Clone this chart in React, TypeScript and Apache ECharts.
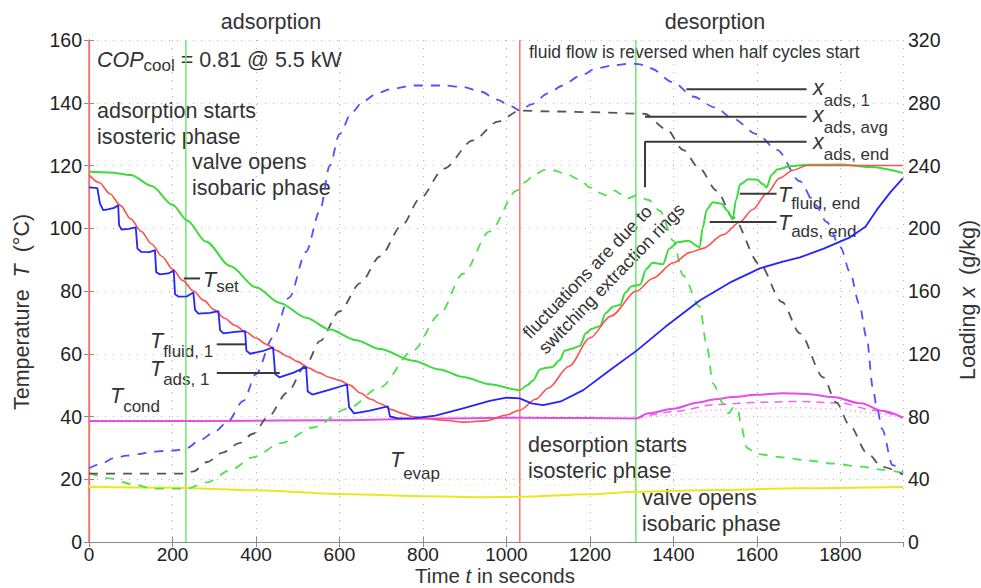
import React, { useEffect, useRef } from "react";
import * as echarts from "echarts";

const FONT = "Liberation Sans";

// Phase markers (time in s)
const phaseStarts = [0, 1032];
const valveOpens = [232, 1310];

// Temperatures (°C) vs time (s)
const tSet: [number, number][] = [[0,117],[25,114.5],[50,111],[75,107.3],[100,103],[125,99],[150,95],[175,91],[200,87],[225,83.3],[250,80],[275,77],[300,74],[325,71.3],[350,69],[375,67],[400,65],[425,63],[450,61],[475,59.2],[500,57.5],[525,55.5],[550,54],[575,52.5],[600,51.5],[625,50],[650,47.5],[675,45.5],[700,44],[725,42.2],[750,41],[775,40],[800,39.5],[850,38.8],[900,38.2],[950,38.6],[1000,40.5],[1032,42],[1070,45.5],[1100,49],[1150,56],[1200,65],[1250,72],[1312,80],[1350,84],[1400,89],[1440,92.3],[1471,93.6],[1520,98],[1559,102],[1590,106],[1623,111],[1655,116],[1686,118.5],[1720,120],[1950,120]];

const tFluid1: [number, number][] = [[0,113],[20,112.8],[26,108],[34,105.8],[45,106],[60,106.5],[70,107.3],[72,101],[78,99.6],[95,99.8],[112,100.3],[116,93.5],[125,92.5],[145,92.4],[158,93],[161,86],[170,85.3],[190,85.6],[203,86.5],[206,79],[215,78.2],[235,78.3],[250,79.5],[254,74],[262,72.8],[290,73],[310,73.6],[314,67.5],[322,66.5],[350,67],[374,67.2],[377,61],[386,60],[415,60.8],[441,62],[446,53.5],[456,52.5],[490,54],[520,55.8],[524,48],[535,47],[575,48.5],[618,50.2],[623,43],[635,41],[670,41.8],[716,43.2],[721,40],[740,39.4],[780,39.5],[830,40.3],[896,42.6],[960,45],[1000,46],[1032,45.8],[1060,44.2],[1088,43.6],[1130,44.8],[1184,48.4],[1250,55],[1312,61],[1380,68.5],[1463,77],[1540,83],[1607,87.2],[1660,89.3],[1703,90.7],[1760,93.5],[1823,97.1],[1860,100.5],[1888,106],[1920,111.5],[1950,116]];

const tFluidEnd: [number, number][] = [[0,118],[50,117.8],[100,117],[150,113.5],[200,107.5],[235,102.5],[280,95.8],[338,88],[400,81.2],[457,76.2],[520,71.5],[577,67.7],[640,64.3],[697,61.5],[776,57.8],[840,55],[896,52.6],[960,50.3],[1032,48.4],[1050,50],[1064,51.5],[1080,55],[1095,55.5],[1110,55.8],[1128,58],[1140,61],[1155,61.5],[1176,62.5],[1190,66.5],[1205,68],[1224,68.8],[1238,73],[1255,75],[1272,75.5],[1285,79.5],[1300,81.5],[1320,82],[1335,87],[1350,89],[1375,88.5],[1390,93.5],[1410,95.5],[1435,96],[1463,94],[1470,100],[1480,106],[1495,108.3],[1515,107.8],[1530,105.5],[1542,102.8],[1550,109],[1560,114],[1580,115.6],[1600,115.5],[1615,114],[1623,113],[1635,117],[1650,118.8],[1680,119.8],[1720,120.2],[1800,120.3],[1870,119.5],[1950,117.6]];

const tCond: [number, number][] = [[0,38.6],[300,38.6],[600,38.8],[800,39.3],[1032,39.6],[1200,39.5],[1310,39.4],[1340,41],[1400,42.5],[1460,44.5],[1500,45.5],[1542,46.2],[1600,46.9],[1662,47.4],[1720,47.2],[1782,46.2],[1850,44.2],[1900,41.8],[1950,39.6]];
const tCondB: [number, number][] = [[1310,39.4],[1400,41.5],[1500,43.8],[1600,44.5],[1700,44.8],[1800,44.3],[1880,42],[1950,39.6]];
const tCondC: [number, number][] = [[1310,39.4],[1400,40.5],[1500,42],[1600,42.7],[1700,42.8],[1800,42.3],[1880,41],[1950,39.6]];

const tEvap: [number, number][] = [[0,17.5],[200,17.3],[400,16.5],[600,15.3],[800,14.6],[950,14.3],[1032,14.4],[1200,15.2],[1310,16],[1500,16.6],[1700,17.1],[1950,17.5]];
const tEvapB: [number, number][] = [[0,18],[500,18],[1000,18.2],[1500,18],[1950,17.8]];

// Loadings (g/kg) vs time (s)
const xAds1: [number, number][] = [[0,47],[30,50],[60,53.5],[90,55],[120,56],[150,57.5],[180,58],[210,58.5],[235,60],[266,65],[300,70],[330,76],[370,90],[400,107],[440,130],[480,156],[520,185],[553,211],[577,240],[600,260],[630,274],[657,281],[690,286],[721,288.5],[776,291],[850,291],[896,290],[940,287],[977,282],[1010,278],[1032,275],[1060,279],[1100,286],[1135,291],[1175,297],[1217,302],[1260,304],[1296,305],[1320,304.5],[1344,302],[1400,293],[1447,284],[1500,277],[1542,270],[1600,260],[1648,250],[1703,230],[1740,215],[1767,204],[1800,188],[1823,172],[1845,152],[1863,130],[1878,98],[1887,86],[1900,72],[1925,49],[1950,45]];

const xAdsAvg: [number, number][] = [[0,43.6],[100,43.6],[232,43.6],[250,45],[283,51],[320,57],[360,63],[393,69],[430,80],[474,95],[520,113],[553,128],[600,147],[650,165],[697,182],[750,202],[793,219],[850,238],[920,256],[980,268],[1032,275],[1100,274.5],[1200,274],[1330,273],[1384,263],[1423,250],[1460,239],[1504,224],[1542,207],[1607,177],[1660,153],[1703,133],[1759,105],[1790,89],[1823,74],[1863,57],[1900,48],[1950,43]];

const xAdsEnd: [number, number][] = [[0,44],[50,40.6],[100,37],[157,34],[234,34],[282,38],[340,46],[393,54],[460,63],[537,73],[620,85],[697,98.6],[776,122],[840,145],[896,171],[960,198],[1025,224],[1040,229],[1073,235],[1090,237],[1111,237],[1140,235],[1176,231],[1200,226],[1217,223],[1240,221],[1260,224],[1272,222],[1290,219],[1312,221],[1340,218],[1368,211],[1400,192],[1423,170],[1463,150],[1480,125],[1495,101],[1520,88],[1532,82],[1545,86],[1555,84],[1562,74],[1576,60],[1600,56],[1662,54],[1720,52],[1782,50],[1850,48],[1902,46],[1950,44]];

// Leader lines for labels (time, °C)
const ptrTSet: [number, number][] = [[227,84],[266,84]];
const ptrTFluid1: [number, number][] = [[306,63],[374,63]];
const ptrTAds1: [number, number][] = [[306,53.9],[457,53.9]];
const ptrX1: [number, number][] = [[1431,144.3],[1719,144.3]];
const ptrXAvg: [number, number][] = [[1332,135.5],[1719,135.5]];
const ptrXEnd: [number, number][] = [[1332,113.1],[1332,127.6],[1719,127.6]];
const ptrTFluidEnd: [number, number][] = [[1559,111],[1647,111]];
const ptrTAdsEnd: [number, number][] = [[1487,102],[1647,102]];

const TXT = "#333";
const AS = 21.5; // annotation font size

function plain(x: number, y: number, text: string, size = AS, align = "left") {
  return {
    type: "text", x, y, silent: true,
    style: { text, fontFamily: FONT, fontSize: size, fill: TXT, align, verticalAlign: "middle", textAlign: align, textVerticalAlign: "middle" },
  };
}

function subLabel(x: number, y: number, main: string, sub: string, off = 10, rest = "") {
  return {
    type: "text", x, y, silent: true,
    style: {
      text: `{m|${main}}{s|${sub}}` + (rest ? `{n|${rest}}` : ""),
      align: "left", verticalAlign: "middle", textAlign: "left", textVerticalAlign: "middle",
      rich: {
        m: { fontFamily: FONT, fontSize: AS, fontStyle: "italic", fill: TXT },
        s: { fontFamily: FONT, fontSize: 17, fill: TXT, padding: [off * 2, 0, 0, 0] },
        n: { fontFamily: FONT, fontSize: AS, fill: TXT },
      },
    },
  };
}

function axisTitle(x: number, y: number, a: string, it: string, b: string, rotation = 0, size = AS) {
  return {
    type: "text", x, y, rotation, silent: true,
    style: {
      text: `{n|${a}}{i|${it}}{n|${b}}`,
      align: "center", verticalAlign: "middle", textAlign: "center", textVerticalAlign: "middle",
      rich: {
        n: { fontFamily: FONT, fontSize: size, fill: TXT },
        i: { fontFamily: FONT, fontSize: size, fontStyle: "italic", fill: TXT },
      },
    },
  };
}

export default function App() {
  const ref = useRef<HTMLDivElement>(null);
  useEffect(() => {
    if (!ref.current) return;
    const chart = echarts.init(ref.current, null, { renderer: "svg" });

    const line = (data: any, color: string, width: number, type: any = "solid", yAxisIndex = 0, smooth: any = false, z = 2) => ({
      type: "line", data, yAxisIndex, xAxisIndex: 0, symbol: "none", showSymbol: false, silent: true,
      smooth, smoothMonotone: "x", z,
      lineStyle: { color, width, type },
    });

    const vlines = [
      ...phaseStarts.map((t) => line([[t, 0], [t, 160]], "#ff7373", 1.5, "solid", 0, false, 1)),
      ...valveOpens.map((t) => line([[t, 0], [t, 160]], "#6ee86e", 1.5, "solid", 0, false, 1)),
    ];

    const axisCommon = {
      axisLine: { show: true, lineStyle: { color: "#8a8a8a", width: 1.2 } },
      axisTick: { show: true, inside: true, length: 5, lineStyle: { color: "#8a8a8a" } },
    };
    const labelStyle = { fontFamily: FONT, fontSize: 19.5, color: "#222" };
    const gridLine = { show: true, lineStyle: { color: "#b0b0b0", type: [1, 7], width: 1 } };

    const option: any = {
      animation: false,
      grid: { left: 89, right: 78, top: 40, bottom: 46 },
      xAxis: [
        {
          type: "value", min: 0, max: 1950, interval: 200, position: "bottom",
          ...axisCommon,
          axisLabel: { ...labelStyle, fontSize: 19, margin: 3, showMaxLabel: false, formatter: (v: number) => (v % 200 === 0 ? String(v) : "") },
          splitLine: gridLine,
        },
        {
          type: "value", min: 0, max: 1950, interval: 200, position: "top",
          ...axisCommon, axisLabel: { show: false }, splitLine: { show: false },
        },
      ],
      yAxis: [
        {
          type: "value", min: 0, max: 160, interval: 20, position: "left",
          ...axisCommon,
          axisLabel: { ...labelStyle, margin: 7 },
          splitLine: gridLine,
        },
        {
          type: "value", min: 0, max: 320, interval: 40, position: "right",
          ...axisCommon,
          axisLabel: { ...labelStyle, margin: 5 },
          splitLine: { show: false },
        },
      ],
      series: [
        ...vlines,
        line(tEvapB, "#f0f070", 1.2, [1, 4], 0, false, 2),
        line(tEvap, "#e8e822", 2, "solid", 0, 0.3, 3),
        line(tCondC, "#f08cf0", 1.5, [1, 4], 0, 0.3, 3),
        line(tCondB, "#ee66ee", 1.5, [8, 6], 0, 0.3, 3),
        line(tCond, "#e84ce8", 2, "solid", 0, 0.3, 4),
        line(xAdsEnd, "#4fe04f", 1.8, [9, 8], 1, 0.3, 4),
        line(xAdsAvg, "#555555", 1.8, [9, 8], 1, 0.3, 4),
        line(xAds1, "#5050ff", 1.8, [9, 8], 1, 0.3, 4),
        line(tFluidEnd, "#3ddc3d", 2, "solid", 0, 0.3, 5),
        line(tSet, "#ff5050", 1.6, "solid", 0, 0.3, 6),
        line(tFluid1, "#2424ff", 1.8, "solid", 0, false, 7),
        ...[ptrTSet, ptrTFluid1, ptrTAds1, ptrX1, ptrXAvg, ptrXEnd, ptrTFluidEnd, ptrTAdsEnd].map((p) =>
          line(p, "#3a3a3a", 2, "solid", 0, false, 8)
        ),
      ],
      graphic: [
        plain(271, 22, "adsorption", AS, "center"),
        plain(715, 22, "desorption", AS, "center"),
        subLabel(97, 60, "COP", "cool", 5, " = 0.81 @ 5.5 kW"),
        plain(97, 111, "adsorption starts"),
        plain(97, 137, "isosteric phase"),
        plain(192, 162, "valve opens"),
        plain(192, 188, "isobaric phase"),
        plain(528, 445, "desorption starts"),
        plain(528, 471, "isosteric phase"),
        plain(642, 498, "valve opens"),
        plain(642, 524, "isobaric phase"),
        plain(529, 52, "fluid flow is reversed when half cycles start", 17.5),
        subLabel(203, 280, "T", "set", 6),
        subLabel(150, 341, "T", "fluid, 1", 10),
        subLabel(150, 369, "T", "ads, 1", 10),
        subLabel(110, 396, "T", "cond", 10),
        subLabel(390, 460, "T", "evap", 13),
        subLabel(813, 88, "x", "ads, 1", 12),
        subLabel(813, 115, "x", "ads, avg", 12),
        subLabel(813, 142, "x", "ads, end", 12),
        subLabel(778, 195, "T", "fluid, end", 8),
        subLabel(778, 223, "T", "ads, end", 8),
        {
          type: "text", x: 518, y: 328, rotation: (46 * Math.PI) / 180, silent: true,
          style: {
            text: "fluctuations are due to\nswitching extraction rings",
            fontFamily: FONT, fontSize: 18, fill: TXT, lineHeight: 22,
            align: "left", verticalAlign: "top", textAlign: "left", textVerticalAlign: "top",
          },
        },
        axisTitle(22, 312, "Temperature  ", "T", "  (°C)", Math.PI / 2),
        axisTitle(968, 300, "Loading ", "x", "  (g/kg)", Math.PI / 2),
        axisTitle(495, 575.5, "Time ", "t", " in seconds", 0, 20.5),
      ],
    };
    chart.setOption(option);
    return () => chart.dispose();
  }, []);
  return <div ref={ref} style={{ width: 981, height: 588, position: "absolute", left: 0, top: 0 }} />;
}
